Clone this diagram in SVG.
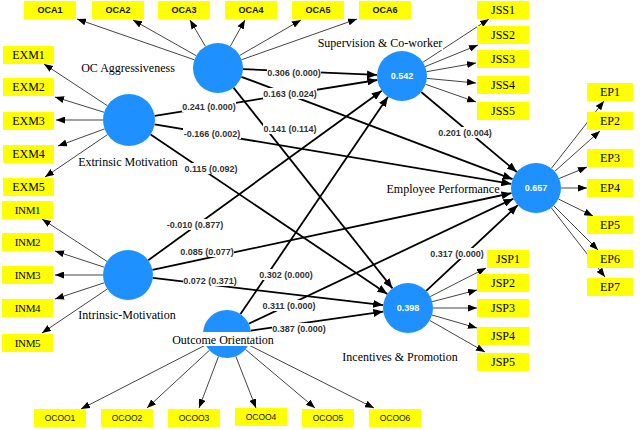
<svg xmlns="http://www.w3.org/2000/svg" width="640" height="430" viewBox="0 0 640 430">
<defs>
<marker id="ah" viewBox="0 0 10 8" refX="10" refY="4" markerWidth="10" markerHeight="8" markerUnits="userSpaceOnUse" orient="auto"><path d="M0,0 L10,4 L0,8 Z" fill="#000"/></marker>
<marker id="ai" viewBox="0 0 9 7" refX="9" refY="3.5" markerWidth="9" markerHeight="7" markerUnits="userSpaceOnUse" orient="auto"><path d="M0,0 L9,3.5 L0,7 Z" fill="#000"/></marker>
</defs>
<style>
.s{stroke:#000;stroke-width:1.8;fill:none;marker-end:url(#ah)}
.i{stroke:#444;stroke-width:1;fill:none;marker-end:url(#ai)}
.pl{font-family:"Liberation Sans",Arial,sans-serif;font-size:9px;font-weight:bold;fill:#333;text-anchor:middle}
.bg{fill:#fff}
.c{fill:#1E90FF}
.cv{font-family:"Liberation Sans",Arial,sans-serif;font-size:9px;font-weight:bold;fill:#fff;text-anchor:middle}
.b{fill:#FFFF00}
.bt{font-family:"Liberation Serif","Times New Roman",serif;font-size:12px;fill:#000;text-anchor:middle}
.bn{font-family:"Liberation Serif","Times New Roman",serif;font-size:11px;fill:#000;text-anchor:middle;letter-spacing:-0.4px}
.bs{font-family:"Liberation Sans",Arial,sans-serif;font-size:9px;font-weight:bold;fill:#111;text-anchor:middle}
.bo{font-family:"Liberation Sans",Arial,sans-serif;font-size:8.5px;fill:#111;text-anchor:middle}
.lb{font-family:"Liberation Serif","Times New Roman",serif;font-size:12px;fill:#000;text-anchor:middle}
</style>
<rect width="640" height="430" fill="#fff"/>
<g id="connectors">
<line class="s" x1="243" y1="69.1" x2="377" y2="74.9"/>
<line class="s" x1="241.4" y1="76.8" x2="512.6" y2="179.2"/>
<line class="s" x1="233.5" y1="87.6" x2="392.5" y2="288.4"/>
<line class="s" x1="154.7" y1="115.9" x2="377.3" y2="80"/>
<line class="s" x1="154.6" y1="124.3" x2="511.3" y2="183.9"/>
<line class="s" x1="150.6" y1="134.5" x2="387.3" y2="294"/>
<line class="s" x1="148.2" y1="260.3" x2="381.8" y2="90.7"/>
<line class="s" x1="152.4" y1="269.8" x2="511.5" y2="193.2"/>
<line class="s" x1="152.8" y1="277.9" x2="383.2" y2="305.1"/>
<line class="s" x1="240.5" y1="314.1" x2="388" y2="96.7"/>
<line class="s" x1="248.7" y1="323.7" x2="513.4" y2="198.7"/>
<line class="s" x1="250.8" y1="330.6" x2="383.3" y2="311.6"/>
<line class="s" x1="421.2" y1="92" x2="516.8" y2="172"/>
<line class="s" x1="426.2" y1="290.9" x2="517.8" y2="205.1"/>
<line class="i" x1="194.4" y1="59.8" x2="77" y2="19"/>
<line class="i" x1="196.2" y1="55.7" x2="133" y2="20"/>
<line class="i" x1="205.4" y1="46.4" x2="190" y2="20"/>
<line class="i" x1="230.3" y1="46.2" x2="245" y2="20"/>
<line class="i" x1="239.6" y1="55.5" x2="301" y2="20"/>
<line class="i" x1="241.6" y1="59.7" x2="357" y2="19"/>
<line class="i" x1="107.3" y1="105.7" x2="44" y2="64"/>
<line class="i" x1="104.2" y1="112.3" x2="55" y2="97"/>
<line class="i" x1="103" y1="120" x2="56" y2="120"/>
<line class="i" x1="104.6" y1="128.9" x2="58" y2="146"/>
<line class="i" x1="107.5" y1="134.6" x2="45" y2="177"/>
<line class="i" x1="107" y1="261.4" x2="42" y2="219"/>
<line class="i" x1="104.2" y1="267.2" x2="55" y2="251"/>
<line class="i" x1="103" y1="275" x2="55" y2="275"/>
<line class="i" x1="104.2" y1="282.8" x2="55" y2="299"/>
<line class="i" x1="107.3" y1="289" x2="42" y2="333"/>
<line class="i" x1="205.6" y1="345" x2="81" y2="409"/>
<line class="i" x1="209.4" y1="350.3" x2="147" y2="408"/>
<line class="i" x1="218.5" y1="356.5" x2="199" y2="408"/>
<line class="i" x1="235.8" y1="356.3" x2="256" y2="408"/>
<line class="i" x1="245.4" y1="349.4" x2="315" y2="408"/>
<line class="i" x1="248.4" y1="344.8" x2="374" y2="408"/>
<line class="i" x1="422.9" y1="62.3" x2="489" y2="19"/>
<line class="i" x1="425.1" y1="66.6" x2="478" y2="45"/>
<line class="i" x1="426.6" y1="71.7" x2="476" y2="63"/>
<line class="i" x1="426.9" y1="78.4" x2="476" y2="83"/>
<line class="i" x1="425.6" y1="84.3" x2="476" y2="102"/>
<line class="i" x1="551.4" y1="168.3" x2="604" y2="101"/>
<line class="i" x1="554.7" y1="171.4" x2="600" y2="131"/>
<line class="i" x1="559.1" y1="178.5" x2="587" y2="167"/>
<line class="i" x1="561" y1="188" x2="587" y2="188"/>
<line class="i" x1="558.4" y1="199" x2="593" y2="216"/>
<line class="i" x1="553.7" y1="205.7" x2="598" y2="250"/>
<line class="i" x1="551.3" y1="207.8" x2="605" y2="277"/>
<line class="i" x1="430.2" y1="296.6" x2="486" y2="268"/>
<line class="i" x1="432.2" y1="301.7" x2="477" y2="290"/>
<line class="i" x1="433" y1="308" x2="477" y2="308"/>
<line class="i" x1="432" y1="315" x2="477" y2="328"/>
<line class="i" x1="429.7" y1="320.4" x2="485" y2="352"/>
<g>
<rect class="bg" x="267" y="67" width="54" height="11"/><text class="pl" x="294" y="76">0.306 (0.000)</text>
<rect class="bg" x="263" y="88" width="54" height="11"/><text class="pl" x="290" y="97">0.163 (0.024)</text>
<rect class="bg" x="263" y="123" width="54" height="11"/><text class="pl" x="290" y="132">0.141 (0.114)</text>
<rect class="bg" x="182" y="101" width="54" height="11"/><text class="pl" x="209" y="110">0.241 (0.000)</text>
<rect class="bg" x="183" y="128" width="58" height="11"/><text class="pl" x="212" y="137">-0.166 (0.002)</text>
<rect class="bg" x="184" y="163" width="54" height="11"/><text class="pl" x="211" y="172">0.115 (0.092)</text>
<rect class="bg" x="166" y="219" width="58" height="11"/><text class="pl" x="195" y="228">-0.010 (0.877)</text>
<rect class="bg" x="180" y="246" width="54" height="11"/><text class="pl" x="207" y="255">0.085 (0.077)</text>
<rect class="bg" x="183" y="275" width="54" height="11"/><text class="pl" x="210" y="284">0.072 (0.371)</text>
<rect class="bg" x="259" y="269" width="54" height="11"/><text class="pl" x="286" y="278">0.302 (0.000)</text>
<rect class="bg" x="262" y="300" width="54" height="11"/><text class="pl" x="289" y="309">0.311 (0.000)</text>
<rect class="bg" x="272" y="323" width="54" height="11"/><text class="pl" x="299" y="332">0.387 (0.000)</text>
<rect class="bg" x="438" y="127" width="54" height="11"/><text class="pl" x="465" y="136">0.201 (0.004)</text>
<rect class="bg" x="430" y="248" width="54" height="11"/><text class="pl" x="457" y="257">0.317 (0.000)</text>
</g>
</g>
<g id="oc-aggressiveness">
<circle class="c" cx="218" cy="68" r="25"/>
<text class="lb" x="128" y="72">OC Aggressiveness</text>
<rect class="b" x="24" y="1" width="52" height="18"/><text class="bs" x="50" y="13">OCA1</text>
<rect class="b" x="92" y="1" width="52" height="18"/><text class="bs" x="118" y="13">OCA2</text>
<rect class="b" x="158" y="1" width="52" height="18"/><text class="bs" x="184" y="13">OCA3</text>
<rect class="b" x="225" y="1" width="52" height="18"/><text class="bs" x="251" y="13">OCA4</text>
<rect class="b" x="292" y="1" width="52" height="18"/><text class="bs" x="318" y="13">OCA5</text>
<rect class="b" x="359" y="1" width="52" height="18"/><text class="bs" x="385" y="13">OCA6</text>
</g>
<g id="extrinsic-motivation">
<circle class="c" cx="129" cy="120" r="26"/>
<text class="lb" x="128" y="166">Extrinsic Motivation</text>
<rect class="b" x="3" y="46" width="51" height="18"/><text class="bt" x="28.5" y="59">EXM1</text>
<rect class="b" x="3" y="78" width="51" height="18"/><text class="bt" x="28.5" y="91">EXM2</text>
<rect class="b" x="3" y="112" width="51" height="18"/><text class="bt" x="28.5" y="125">EXM3</text>
<rect class="b" x="3" y="145" width="51" height="18"/><text class="bt" x="28.5" y="158">EXM4</text>
<rect class="b" x="3" y="178" width="51" height="18"/><text class="bt" x="28.5" y="191">EXM5</text>
</g>
<g id="intrinsic-motivation">
<circle class="c" cx="128" cy="275" r="25"/>
<text class="lb" x="127" y="319">Intrinsic-Motivation</text>
<rect class="b" x="2" y="201" width="51" height="18"/><text class="bn" x="27.5" y="214">INM1</text>
<rect class="b" x="2" y="233" width="51" height="18"/><text class="bn" x="27.5" y="246">INM2</text>
<rect class="b" x="2" y="266" width="51" height="18"/><text class="bn" x="27.5" y="279">INM3</text>
<rect class="b" x="2" y="299" width="51" height="18"/><text class="bn" x="27.5" y="312">INM4</text>
<rect class="b" x="2" y="334" width="51" height="18"/><text class="bn" x="27.5" y="347">INM5</text>
</g>
<g id="outcome-orientation">
<circle class="c" cx="227" cy="334" r="24"/>
<rect class="bg" x="171" y="332" width="104" height="14"/>
<text class="lb" x="223" y="344">Outcome Orientation</text>
<rect class="b" x="34" y="409" width="52" height="18"/><text class="bo" x="60" y="421">OCOO1</text>
<rect class="b" x="101" y="409" width="52" height="18"/><text class="bo" x="127" y="421">OCOO2</text>
<rect class="b" x="168" y="409" width="52" height="18"/><text class="bo" x="194" y="421">OCOO3</text>
<rect class="b" x="235" y="408" width="52" height="18"/><text class="bo" x="261" y="420">OCOO4</text>
<rect class="b" x="302" y="409" width="52" height="18"/><text class="bo" x="328" y="421">OCOO5</text>
<rect class="b" x="369" y="409" width="52" height="18"/><text class="bo" x="395" y="421">OCOO6</text>
</g>
<g id="supervision-coworker">
<circle class="c" cx="402" cy="76" r="25"/>
<text class="cv" x="402" y="79">0.542</text>
<rect class="bg" x="317" y="36" width="126" height="14"/>
<text class="lb" x="380" y="47">Supervision &amp; Co-worker</text>
<rect class="b" x="477" y="1" width="52" height="18"/><text class="bt" x="503" y="14">JSS1</text>
<rect class="b" x="477" y="26" width="52" height="18"/><text class="bt" x="503" y="39">JSS2</text>
<rect class="b" x="477" y="50" width="52" height="18"/><text class="bt" x="503" y="63">JSS3</text>
<rect class="b" x="477" y="76" width="52" height="18"/><text class="bt" x="503" y="89">JSS4</text>
<rect class="b" x="477" y="102" width="52" height="18"/><text class="bt" x="503" y="115">JSS5</text>
</g>
<g id="employee-performance">
<circle class="c" cx="536" cy="188" r="25"/>
<text class="cv" x="536" y="191">0.657</text>
<text class="lb" x="443" y="193">Employee Performance</text>
<rect class="b" x="587" y="83" width="46" height="18"/><text class="bt" x="610" y="96">EP1</text>
<rect class="b" x="587" y="112" width="46" height="18"/><text class="bt" x="610" y="125">EP2</text>
<rect class="b" x="587" y="149" width="46" height="18"/><text class="bt" x="610" y="162">EP3</text>
<rect class="b" x="587" y="179" width="46" height="18"/><text class="bt" x="610" y="192">EP4</text>
<rect class="b" x="587" y="216" width="46" height="18"/><text class="bt" x="610" y="229">EP5</text>
<rect class="b" x="587" y="250" width="46" height="18"/><text class="bt" x="610" y="263">EP6</text>
<rect class="b" x="587" y="278" width="46" height="18"/><text class="bt" x="610" y="291">EP7</text>
</g>
<g id="incentives-promotion">
<circle class="c" cx="408" cy="308" r="25"/>
<text class="cv" x="408" y="311">0.398</text>
<text class="lb" x="400" y="361">Incentives &amp; Promotion</text>
<rect class="b" x="487" y="250" width="42" height="18"/><text class="bt" x="508" y="263">JSP1</text>
<rect class="b" x="477" y="274" width="52" height="18"/><text class="bt" x="503" y="287">JSP2</text>
<rect class="b" x="477" y="299" width="52" height="18"/><text class="bt" x="503" y="312">JSP3</text>
<rect class="b" x="477" y="327" width="52" height="18"/><text class="bt" x="503" y="340">JSP4</text>
<rect class="b" x="477" y="353" width="52" height="18"/><text class="bt" x="503" y="366">JSP5</text>
</g>
</svg>
